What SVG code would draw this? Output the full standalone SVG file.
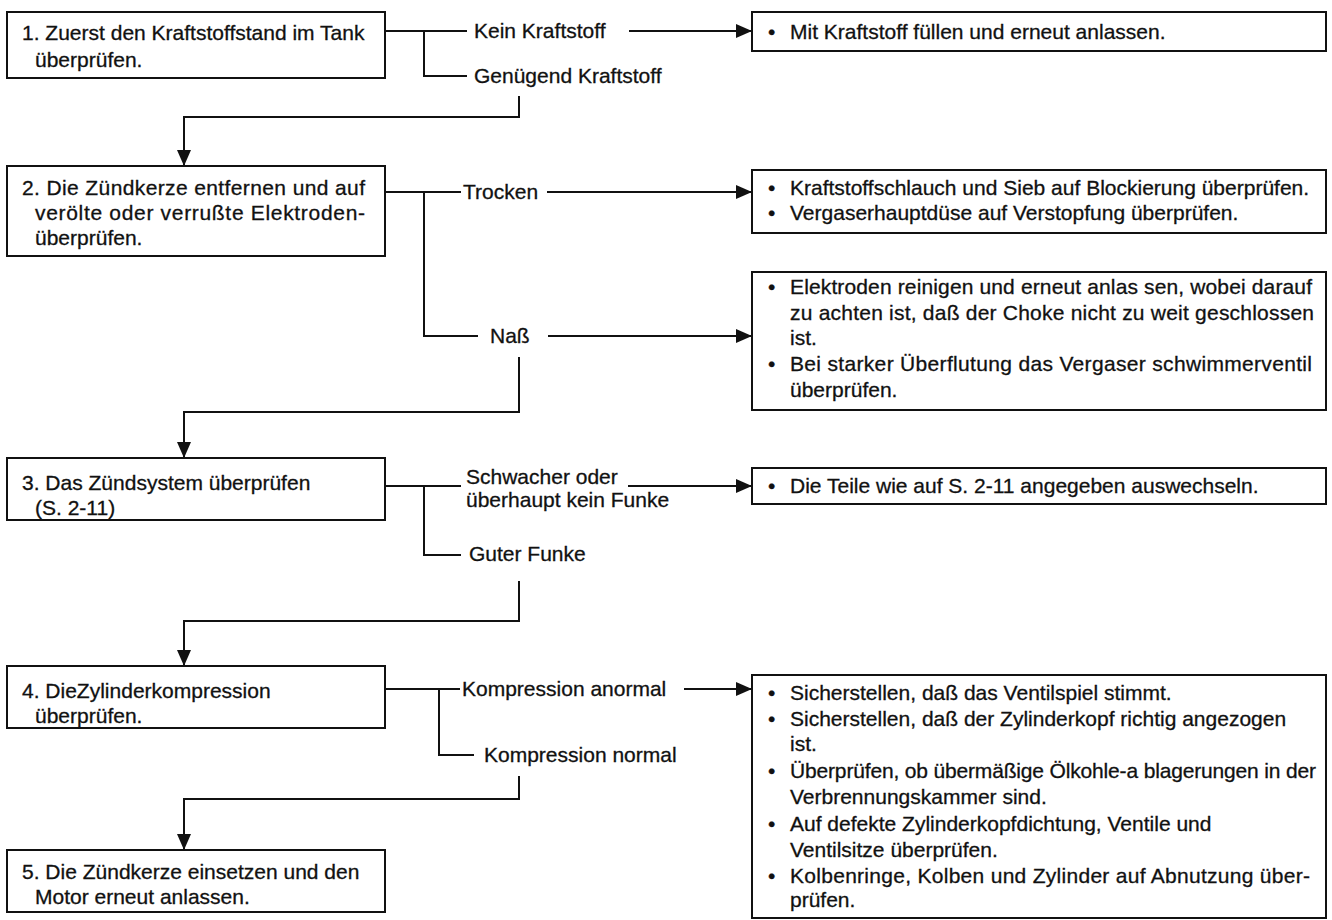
<svg xmlns="http://www.w3.org/2000/svg" width="1332" height="920" viewBox="0 0 1332 920">
<style>
text{font-family:"Liberation Sans",Arial,sans-serif;font-size:21px;fill:#111;stroke:#111;stroke-width:0.3}
.box{fill:#fff;stroke:#111;stroke-width:2}
.ln{fill:none;stroke:#111;stroke-width:2}
</style>
<defs>
<marker id="ah" markerWidth="16" markerHeight="14" refX="15" refY="7" orient="auto" markerUnits="userSpaceOnUse">
<path d="M0,0 L16,7 L0,14 Z" fill="#111"/>
</marker>
</defs>
<rect width="1332" height="920" fill="#fff"/>

<g id="connectors">
<path class="ln" d="M385,31 H467 M424,31 V76 H467"/>
<path class="ln" d="M629,31 H751" marker-end="url(#ah)"/>
<path class="ln" d="M519,96 V117 H184 V165" marker-end="url(#ah)"/>

<path class="ln" d="M385,192 H461 M424,192 V336 H478"/>
<path class="ln" d="M547,192 H751" marker-end="url(#ah)"/>
<path class="ln" d="M548,336 H751" marker-end="url(#ah)"/>
<path class="ln" d="M519,357 V412 H184 V457" marker-end="url(#ah)"/>

<path class="ln" d="M385,486 H461 M424,486 V555 H461"/>
<path class="ln" d="M628,486 H751" marker-end="url(#ah)"/>
<path class="ln" d="M519,581 V621 H184 V665" marker-end="url(#ah)"/>

<path class="ln" d="M385,689 H460 M439,689 V755 H474"/>
<path class="ln" d="M684,689 H751" marker-end="url(#ah)"/>
<path class="ln" d="M519,776 V799 H184 V849" marker-end="url(#ah)"/>
</g>

<g id="labels">
<text x="474" y="38">Kein Kraftstoff</text>
<text x="474" y="83">Genügend Kraftstoff</text>
<text x="463" y="199">Trocken</text>
<text x="490" y="343">Naß</text>
<text x="466" y="484">Schwacher oder</text>
<text x="466" y="507">überhaupt kein Funke</text>
<text x="469" y="561">Guter Funke</text>
<text x="462" y="696">Kompression anormal</text>
<text x="484" y="762">Kompression normal</text>
</g>

<g id="step1">
<rect class="box" x="7" y="12" width="378" height="66"/>
<text x="22" y="40">1. Zuerst den Kraftstoffstand im Tank</text>
<text x="35" y="67">überprüfen.</text>
</g>
<g id="step2">
<rect class="box" x="7" y="166" width="378" height="90"/>
<text x="22" y="195" textLength="343" lengthAdjust="spacing">2. Die Zündkerze entfernen und auf</text>
<text x="35" y="220" textLength="330" lengthAdjust="spacing">verölte oder verrußte Elektroden-</text>
<text x="35" y="245">überprüfen.</text>
</g>
<g id="step3">
<rect class="box" x="7" y="458" width="378" height="62"/>
<text x="22" y="490">3. Das Zündsystem überprüfen</text>
<text x="35" y="515">(S. 2-11)</text>
</g>
<g id="step4">
<rect class="box" x="7" y="666" width="378" height="62"/>
<text x="22" y="698">4. DieZylinderkompression</text>
<text x="35" y="723">überprüfen.</text>
</g>
<g id="step5">
<rect class="box" x="7" y="850" width="378" height="62"/>
<text x="22" y="879">5. Die Zündkerze einsetzen und den</text>
<text x="35" y="904">Motor erneut anlassen.</text>
</g>

<g id="result1">
<rect class="box" x="752" y="12" width="574" height="39"/>
<text x="768" y="39">•</text>
<text x="790" y="39">Mit Kraftstoff füllen und erneut anlassen.</text>
</g>
<g id="result2">
<rect class="box" x="752" y="170" width="574" height="63"/>
<text x="768" y="195">•</text>
<text x="790" y="195">Kraftstoffschlauch und Sieb auf Blockierung überprüfen.</text>
<text x="768" y="220">•</text>
<text x="790" y="220">Vergaserhauptdüse auf Verstopfung überprüfen.</text>
</g>
<g id="result3">
<rect class="box" x="752" y="272" width="574" height="138"/>
<text x="768" y="294">•</text>
<text x="790" y="294" textLength="522" lengthAdjust="spacing">Elektroden reinigen und erneut anlas sen, wobei darauf</text>
<text x="790" y="320" textLength="524" lengthAdjust="spacing">zu achten ist, daß der Choke nicht zu weit geschlossen</text>
<text x="790" y="345">ist.</text>
<text x="768" y="371">•</text>
<text x="790" y="371" textLength="522" lengthAdjust="spacing">Bei starker Überflutung das Vergaser schwimmerventil</text>
<text x="790" y="397">überprüfen.</text>
</g>
<g id="result4">
<rect class="box" x="752" y="468" width="574" height="36"/>
<text x="768" y="493">•</text>
<text x="790" y="493">Die Teile wie auf S. 2-11 angegeben auswechseln.</text>
</g>
<g id="result5">
<rect class="box" x="752" y="675" width="574" height="243"/>
<text x="768" y="700">•</text>
<text x="790" y="700">Sicherstellen, daß das Ventilspiel stimmt.</text>
<text x="768" y="726">•</text>
<text x="790" y="726">Sicherstellen, daß der Zylinderkopf richtig angezogen</text>
<text x="790" y="751">ist.</text>
<text x="768" y="778">•</text>
<text x="790" y="778" textLength="526" lengthAdjust="spacing">Überprüfen, ob übermäßige Ölkohle-a blagerungen in der</text>
<text x="790" y="804">Verbrennungskammer sind.</text>
<text x="768" y="831">•</text>
<text x="790" y="831">Auf defekte Zylinderkopfdichtung, Ventile und</text>
<text x="790" y="857">Ventilsitze überprüfen.</text>
<text x="768" y="883">•</text>
<text x="790" y="883" textLength="520" lengthAdjust="spacing">Kolbenringe, Kolben und Zylinder auf Abnutzung über-</text>
<text x="790" y="907">prüfen.</text>
</g>
</svg>
